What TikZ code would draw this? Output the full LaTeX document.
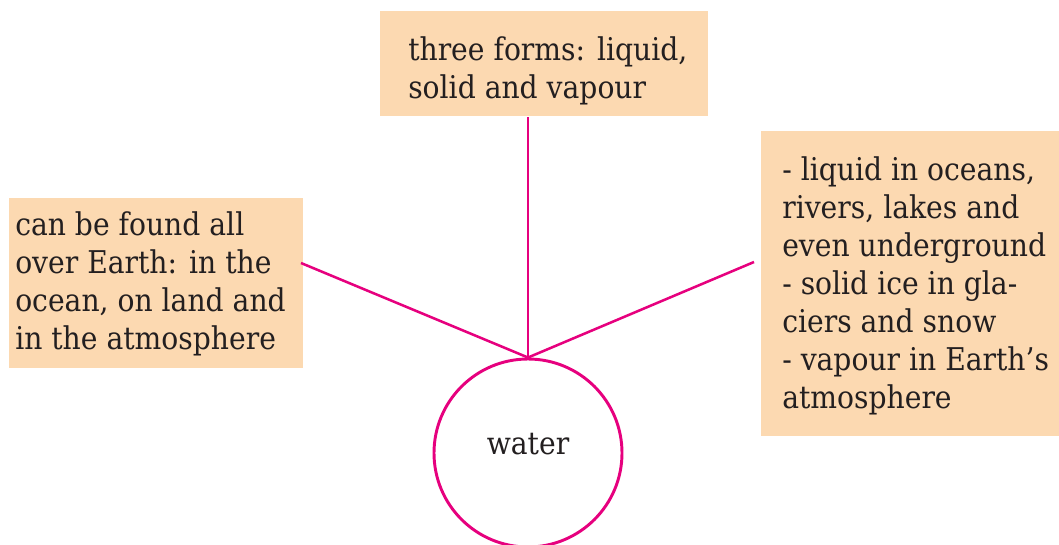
\documentclass[tikz,border=0pt]{standalone}
\usepackage{fontspec}
\newfontfamily\lblfont[FakeStretch=0.9]{DejaVu Serif}
\definecolor{peach}{HTML}{FCD9B1}
\definecolor{wpink}{HTML}{E6007E}
\definecolor{ink}{HTML}{231F20}
\begin{document}
\begin{tikzpicture}[x=0.75pt,y=-0.75pt,
  box/.style={fill=peach,draw=none,inner sep=0,anchor=north west},
  txt/.style={inner sep=0,anchor=base west,align=left,text=ink,
    font=\lblfont\fontsize{23.5}{28.5}\selectfont},
  conn/.style={draw=wpink,line width=1.9pt}]
\useasboundingbox (0,0) rectangle (1059,545);
% boxes
\node[box,minimum width=328*0.75pt,minimum height=105*0.75pt] (topbox) at (380,11) {};
\node[box,minimum width=294*0.75pt,minimum height=170*0.75pt] (leftbox) at (9,198) {};
\node[box,minimum width=298*0.75pt,minimum height=305*0.75pt] (rightbox) at (761,131) {};
% texts (anchored at the baseline of the last line)
\node[txt] (toptxt) at (408,99) {three forms: liquid,\\solid and vapour};
\node[txt] (lefttxt) at (15,349) {can be found all\\over Earth: in the\\ocean, on land and\\in the atmosphere};
\node[txt] (righttxt) at (782,408) {- liquid in oceans,\\rivers, lakes and\\even underground\\- solid ice in gla-\\ciers and snow\\- vapour in Earth’s\\atmosphere};
% water circle
\node[circle,draw=wpink,line width=2.2pt,minimum size=188*0.75pt,inner sep=0,
  text=ink,font=\lblfont\fontsize{23.5}{28.5}\selectfont,
  text height=5pt,text depth=3.5pt] (water) at (528,453) {water};
% connectors
\coordinate (lend) at (301,263);
\coordinate (rend) at (754,262);
\draw[conn] (water.north) -- (water.north |- topbox.south);
\draw[conn] (water.north) -- (lend);
\draw[conn] (water.north) -- (rend);
\end{tikzpicture}
\end{document}
